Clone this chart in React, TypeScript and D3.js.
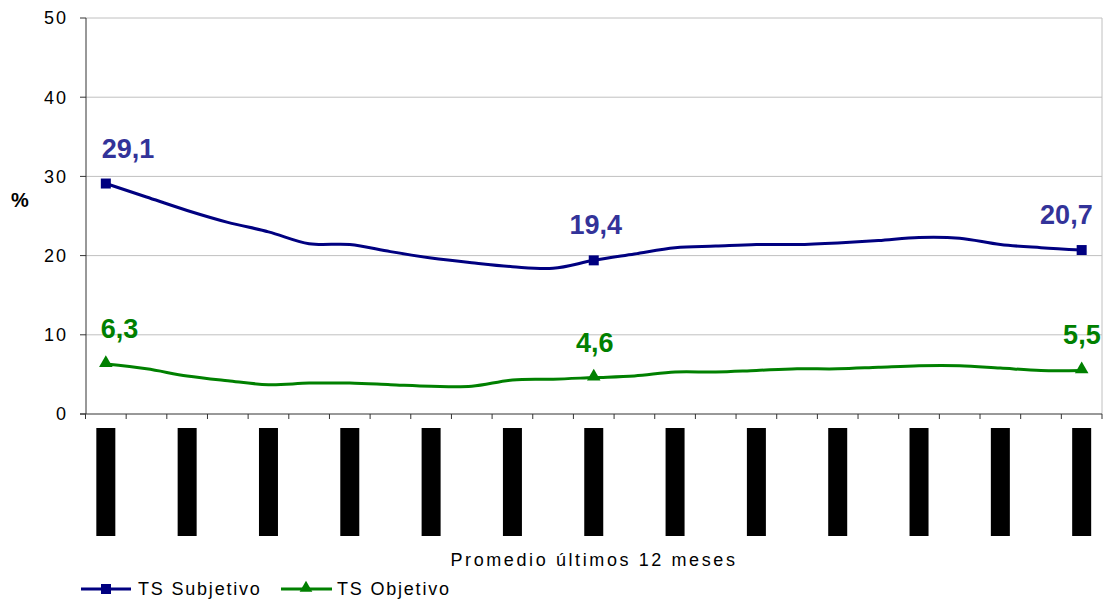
import React from "react";
import * as d3 from "d3";

const categoryCount = 25;
const categories: number[] = Array.from({ length: categoryCount }, (_, i) => i);
const subjetivo = [29.1, 27.4, 25.7, 24.2, 23.0, 21.5, 21.4, 20.5, 19.7, 19.1, 18.6, 18.4, 19.4, 20.2, 21.0, 21.2, 21.4, 21.4, 21.6, 21.9, 22.3, 22.2, 21.4, 21.0, 20.7];
const objetivo = [6.3, 5.7, 4.8, 4.2, 3.7, 3.9, 3.9, 3.7, 3.5, 3.5, 4.3, 4.4, 4.6, 4.8, 5.3, 5.3, 5.5, 5.7, 5.7, 5.9, 6.1, 6.1, 5.8, 5.5, 5.5];
const yTicks = [0, 10, 20, 30, 40, 50];
const labeledIdx = [0, 12, 24];
const subjLabels = ["29,1", "19,4", "20,7"];
const objLabels = ["6,3", "4,6", "5,5"];
const xTitle = "Promedio últimos 12 meses";
const legendNames = ["TS Subjetivo", "TS Objetivo"];

const W = 1110, H = 603;
const FONT = "'Liberation Sans', Arial, sans-serif";
const NAVY = "#000080";
const SUBJ_LABEL = "#333399";
const GREEN = "#008000";

export default function App() {
  const x = d3.scaleBand<number>().domain(categories).range([85.5, 1102]);
  const cx = (i: number) => (x(i) as number) + x.bandwidth() / 2;
  const y = d3.scaleLinear().domain([0, 50]).range([414, 18]);
  const line = d3
    .line<number>()
    .x((_, i) => cx(i))
    .y((d) => y(d))
    .curve(d3.curveCardinal.tension(0));

  const boundaries = d3.range(categoryCount + 1).map((i) => 85.5 + i * x.bandwidth());
  const blockIdx = categories.filter((i) => i % 2 === 0);

  const anchors = ["start", "middle", "end"] as const;
  const subjDx = [-4, 2, 11];
  const objDx = [-5, 1, 19];

  return (
    <svg width={W} height={H} style={{ position: "absolute", left: 0, top: 0, background: "#fff" }} fontFamily={FONT}>
      <rect x={0} y={0} width={W} height={H} fill="#fff" />
      {yTicks.filter((t) => t > 0).map((t) => (
        <line key={t} x1={86} x2={1102} y1={y(t)} y2={y(t)} stroke="#c0c0c0" strokeWidth={1} />
      ))}
      <line x1={1102} x2={1102} y1={y(50)} y2={y(0)} stroke="#c0c0c0" strokeWidth={1} />
      <line x1={86} x2={86} y1={y(50)} y2={y(0)} stroke="#333" strokeWidth={1} />
      {yTicks.map((t) => (
        <g key={t}>
          <line x1={80} x2={86} y1={y(t)} y2={y(t)} stroke="#333" />
          <text x={68} y={y(t)} dy="0.35em" textAnchor="end" fontSize={18} letterSpacing={2} fill="#000">{t}</text>
        </g>
      ))}
      <text x={20} y={200} dy="0.35em" textAnchor="middle" fontSize={20} fontWeight="bold" fill="#000">%</text>
      <line x1={80} x2={1102} y1={y(0)} y2={y(0)} stroke="#333" strokeWidth={1} />
      {boundaries.map((b, i) => (
        <line key={i} x1={b} x2={b} y1={y(0)} y2={y(0) + 5} stroke="#333" />
      ))}
      {blockIdx.map((i) => (
        <rect key={i} x={cx(i) - 9.5} y={428} width={19} height={108} fill="#000" />
      ))}
      <text x={594} y={566} textAnchor="middle" fontSize={18} letterSpacing={2.6} fill="#000">{xTitle}</text>
      <path d={line(subjetivo) || ""} fill="none" stroke={NAVY} strokeWidth={3} />
      <path d={line(objetivo) || ""} fill="none" stroke={GREEN} strokeWidth={3} />
      {labeledIdx.map((i, k) => (
        <g key={"s" + i}>
          <rect x={cx(i) - 5} y={y(subjetivo[i]) - 5} width={10} height={10} fill={NAVY} />
          <text x={cx(i) + subjDx[k]} y={y(subjetivo[i]) - 26} textAnchor={anchors[k]} fontSize={27} fontWeight="bold" fill={SUBJ_LABEL}>{subjLabels[k]}</text>
        </g>
      ))}
      {labeledIdx.map((i, k) => (
        <g key={"o" + i}>
          <path d={d3.symbol().type(d3.symbolTriangle).size(80)() || ""} transform={`translate(${cx(i)},${y(objetivo[i]) - 1})`} fill={GREEN} />
          <text x={cx(i) + objDx[k]} y={y(objetivo[i]) - 26} textAnchor={anchors[k]} fontSize={27} fontWeight="bold" fill={GREEN}>{objLabels[k]}</text>
        </g>
      ))}
      <g>
        <line x1={81} x2={131} y1={589} y2={589} stroke={NAVY} strokeWidth={3} />
        <rect x={101} y={584} width={10} height={10} fill={NAVY} />
        <text x={138} y={589} dy="0.35em" fontSize={18} letterSpacing={1.8} fill="#000">{legendNames[0]}</text>
        <line x1={281} x2={332} y1={589} y2={589} stroke={GREEN} strokeWidth={3} />
        <path d={d3.symbol().type(d3.symbolTriangle).size(70)() || ""} transform="translate(306,588)" fill={GREEN} />
        <text x={337} y={589} dy="0.35em" fontSize={18} letterSpacing={1.8} fill="#000">{legendNames[1]}</text>
      </g>
    </svg>
  );
}
